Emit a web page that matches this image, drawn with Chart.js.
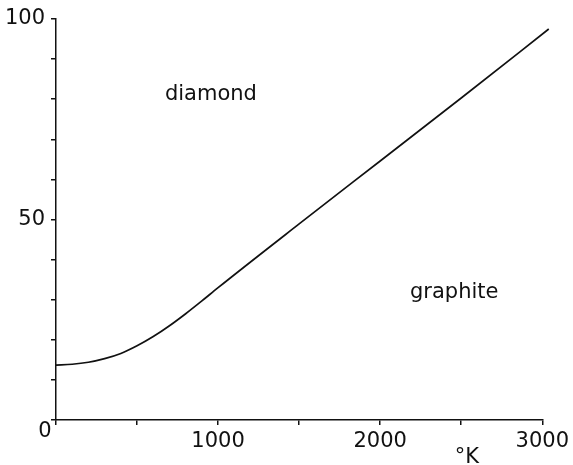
<!DOCTYPE html>
<html>
<head>
<meta charset="utf-8">
<script src="https://cdn.jsdelivr.net/npm/chart.js@4.4.1/dist/chart.umd.min.js"></script>
<style>
  html, body { margin: 0; padding: 0; background: #fff; }
  #wrap { width: 573px; height: 465px; position: relative; }
</style>
</head>
<body>
<div id="wrap"><canvas id="chart"></canvas></div>
<script>
// temperature (°K) vs boundary pressure
const temps = [0, 100, 200, 300, 400, 500, 600, 700, 800, 900, 1000, 1500, 2000, 2500, 3040];
const pressure = [13.7, 13.9, 14.4, 15.3, 16.6, 18.5, 20.8, 23.5, 26.5, 29.7, 33.0, 48.9, 64.6, 80.3, 97.5];

const xTickLabels = [1000, 2000, 3000];
const yTickLabels = [50, 100];

// text labels placed in data units
const regionLabels = [
  { text: 'diamond', x: 672, y: 79.8, align: 'left' },
  { text: 'graphite', x: 2184, y: 30.4, align: 'left' },
  { text: '0', x: -68, y: -4.2, align: 'center' },
  { text: '°K', x: 2460, y: -10.7, align: 'left' }
];

const FONT = '"DejaVu Sans", sans-serif';

const labelPlugin = {
  id: 'regionLabels',
  afterDraw(chart) {
    const ctx = chart.ctx;
    const xs = chart.scales.x, ys = chart.scales.y;
    ctx.save();
    ctx.fillStyle = '#111';
    ctx.font = '21px ' + FONT;
    ctx.textBaseline = 'alphabetic';
    regionLabels.forEach(l => {
      ctx.textAlign = l.align;
      ctx.fillText(l.text, xs.getPixelForValue(l.x), ys.getPixelForValue(l.y));
    });
    ctx.restore();
  }
};

new Chart(document.getElementById('chart'), {
  type: 'line',
  data: {
    datasets: [{
      data: temps.map((t, i) => ({ x: t, y: pressure[i] })),
      borderColor: '#111',
      borderWidth: 1.7,
      pointRadius: 0,
      cubicInterpolationMode: 'monotone',
      clip: false,
      fill: false
    }]
  },
  options: {
    responsive: true,
    maintainAspectRatio: false,
    animation: false,
    layout: { padding: { top: 19, right: 30, left: 0, bottom: 0 } },
    plugins: {
      legend: { display: false },
      tooltip: { enabled: false }
    },
    scales: {
      x: {
        type: 'linear',
        min: 0,
        max: 3000,
        border: { color: '#111', width: 1.5 },
        grid: { drawOnChartArea: false, color: '#111', tickLength: 5, lineWidth: 1.5 },
        ticks: {
          stepSize: 500,
          color: '#111',
          padding: 4,
          maxRotation: 0,
          autoSkip: false,
          font: { family: FONT, size: 21 },
          callback: v => xTickLabels.includes(v) ? String(v) : ''
        },
        afterFit: s => { s.height = 45; }
      },
      y: {
        min: 0,
        max: 100,
        border: { color: '#111', width: 1.5 },
        grid: { drawOnChartArea: false, color: '#111', tickLength: 5, lineWidth: 1.5 },
        ticks: {
          stepSize: 10,
          color: '#111',
          padding: 6,
          autoSkip: false,
          font: { family: FONT, size: 21 },
          callback: v => yTickLabels.includes(v) ? String(v) : ''
        },
        afterFit: s => { s.width = 56; }
      }
    }
  },
  plugins: [labelPlugin]
});
</script>
</body>
</html>
